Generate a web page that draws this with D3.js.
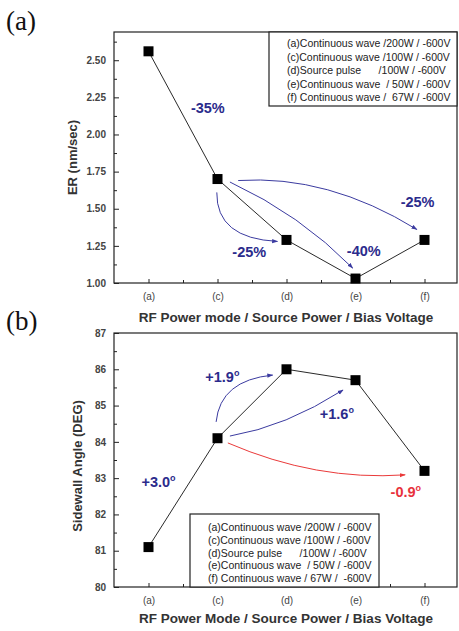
<!DOCTYPE html>
<html>
<head>
<meta charset="utf-8">
<script src="https://cdn.jsdelivr.net/npm/d3@7"></script>
<style>
  body { margin: 0; background: #fff; }
  text { font-family: Arial, "Liberation Sans", sans-serif; }
  .legend text { white-space: pre; }
</style>
</head>
<body>
<div id="chart"></div>
<script>
// categories + values
var categories = ["(a)", "(c)", "(d)", "(e)", "(f)"];
var erValues = [2.56, 1.70, 1.29, 1.03, 1.29];
var angleValues = [81.1, 84.1, 86.0, 85.7, 83.2];

var erTicks = [1.00, 1.25, 1.50, 1.75, 2.00, 2.25, 2.50];
var angleTicks = [80, 81, 82, 83, 84, 85, 86, 87];

var legendA = [
  "(a)Continuous wave /200W / -600V",
  "(c)Continuous wave /100W / -600V",
  "(d)Source pulse      /100W / -600V",
  "(e)Continuous wave  / 50W / -600V",
  "(f) Continuous wave /  67W / -600V"
];
var legendB = [
  "(a)Continuous wave /200W / -600V",
  "(c)Continuous wave /100W / -600V",
  "(d)Source pulse      /100W / -600V",
  "(e)Continuous wave  / 50W / -600V",
  "(f) Continuous wave / 67W /  -600V"
];

// arrows: [x0, y0, cx, cy, x1, y1] in data units (x = category index)
var arrowsA = [
  [0.99, 1.61, 0.98, 1.30, 1.87, 1.28],
  [1.18, 1.68, 2.20, 1.46, 2.96, 1.10],
  [1.30, 1.69, 2.60, 1.73, 3.89, 1.36]
];
var arrowsB = [
  [0.98, 84.55, 1.04, 85.70, 1.80, 85.84, "blue"],
  [1.18, 84.16, 1.99, 84.42, 2.82, 85.43, "blue"],
  [1.15, 83.97, 2.43, 82.92, 3.72, 83.09, "red"]
];
// labels: [x index, value, text]
var notesA = [
  [0.86, 2.145, "-35%"],
  [1.46, 1.175, "-25%"],
  [3.12, 1.18, "-40%"],
  [3.90, 1.51, "-25%"]
];
var notesB = [
  [1.07, 85.65, "+1.9", "#2b2b8c"],
  [2.73, 84.63, "+1.6", "#2b2b8c"],
  [0.145, 82.76, "+3.0", "#2b2b8c"],
  [3.73, 82.48, "-0.9", "#e8323c"]
];

var W = 459, H = 631;
var svg = d3.select("#chart").append("svg")
  .attr("width", W).attr("height", H);

var defs = svg.append("defs");
[["blue", "#3b3ba0"], ["red", "#ea3a3a"]].forEach(function(c) {
  defs.append("marker")
    .attr("id", "arr-" + c[0])
    .attr("viewBox", "0 0 10 10")
    .attr("refX", 9).attr("refY", 5)
    .attr("markerWidth", 6).attr("markerHeight", 6)
    .attr("markerUnits", "userSpaceOnUse")
    .attr("orient", "auto")
    .append("path")
    .attr("d", "M0,1.5 L10,5 L0,8.5 Z")
    .attr("fill", c[1]);
});

var x = d3.scaleLinear().domain([-0.5, 4.5]).range([114, 459]);

function drawPanel(opt) {
  var y = d3.scaleLinear().domain(opt.domain).range([opt.bottom, opt.top]);
  var g = svg.append("g");

  // frame
  g.append("rect")
    .attr("x", 114).attr("y", opt.top)
    .attr("width", 457 - 114).attr("height", opt.bottom - opt.top)
    .attr("fill", "none").attr("stroke", "#222").attr("stroke-width", 1.2);

  // x axis, ticks pointing in
  var xa = g.append("g").attr("transform", "translate(0," + opt.bottom + ")")
    .call(d3.axisBottom(x).tickValues(d3.range(5)).tickSize(-4)
      .tickPadding(10).tickFormat(function(i) { return categories[i]; }));
  var xm = g.append("g").attr("transform", "translate(0," + opt.bottom + ")")
    .call(d3.axisBottom(x).tickValues([0.5, 1.5, 2.5, 3.5]).tickSize(-3).tickFormat(""));
  // y axis
  var ya = g.append("g").attr("transform", "translate(114,0)")
    .call(d3.axisLeft(y).tickValues(opt.ticks).tickSize(-5)
      .tickPadding(8).tickFormat(opt.fmt));
  var ym = g.append("g").attr("transform", "translate(114,0)")
    .call(d3.axisLeft(y).tickValues(opt.minor).tickSize(-3).tickFormat(""));

  [xa, xm, ya, ym].forEach(function(a) {
    a.select(".domain").remove();
    a.selectAll("line").attr("stroke", "#222");
  });
  xa.selectAll("text").style("font-size", "10px").attr("fill", "#444");
  ya.selectAll("text").style("font-size", "10px").style("font-weight", "bold").attr("fill", "#444");

  // connecting line
  var line = d3.line()
    .x(function(d, i) { return x(i); })
    .y(function(d) { return y(d); });
  g.append("path").datum(opt.values)
    .attr("d", line).attr("fill", "none")
    .attr("stroke", "#111").attr("stroke-width", 0.9);

  // arrows
  g.selectAll(".arrow").data(opt.arrows).enter().append("path")
    .attr("d", function(a) {
      var p = d3.path();
      p.moveTo(x(a[0]), y(a[1]));
      p.quadraticCurveTo(x(a[2]), y(a[3]), x(a[4]), y(a[5]));
      return p.toString();
    })
    .attr("fill", "none")
    .attr("stroke", function(a) { return a[6] === "red" ? "#ea3a3a" : "#3b3ba0"; })
    .attr("stroke-width", 1)
    .attr("marker-end", function(a) { return "url(#arr-" + (a[6] || "blue") + ")"; });

  // markers
  g.selectAll(".pt").data(opt.values).enter().append("rect")
    .attr("x", function(d, i) { return x(i) - 5; })
    .attr("y", function(d) { return y(d) - 5; })
    .attr("width", 10).attr("height", 10)
    .attr("fill", "#000");

  // notes
  var nt = g.selectAll(".note").data(opt.notes).enter().append("text")
    .attr("x", function(n) { return x(n[0]); })
    .attr("y", function(n) { return y(n[1]); })
    .attr("text-anchor", "middle")
    .style("font-size", "14.5px").style("font-weight", "bold")
    .attr("fill", function(n) { return n[3] || "#2b2b8c"; });
  nt.append("tspan").text(function(n) { return n[2]; });
  if (opt.degree) {
    nt.append("tspan").attr("dy", -6).style("font-size", "9px").text("o");
  }

  // legend
  var lg = g.append("g").attr("class", "legend");
  lg.append("rect")
    .attr("x", opt.legend.x).attr("y", opt.legend.y)
    .attr("width", opt.legend.w).attr("height", opt.legend.h)
    .attr("fill", "#fff").attr("stroke", "#222").attr("stroke-width", 1.2);
  lg.selectAll("text").data(opt.legend.lines).enter().append("text")
    .attr("x", opt.legend.tx)
    .attr("y", function(d, i) { return opt.legend.ty + i * opt.legend.dy; })
    .style("font-size", "10.5px").attr("fill", "#222")
    .text(function(d) { return d; });

  // axis titles
  g.append("text")
    .attr("transform", "translate(" + opt.ylabX + "," + ((opt.top + opt.bottom) / 2 + opt.ylabShift) + ") rotate(-90)")
    .attr("text-anchor", "middle")
    .style("font-size", "13px").style("font-weight", "bold").attr("fill", "#333")
    .text(opt.ylab);
  g.append("text")
    .attr("x", 286).attr("y", opt.bottom + opt.xlabDy)
    .attr("text-anchor", "middle")
    .style("font-size", "13.5px").style("font-weight", "bold").attr("fill", "#333")
    .text(opt.xlab);

  // panel letter
  svg.append("text")
    .attr("x", 6).attr("y", opt.panelY)
    .style("font-family", "'Liberation Serif', 'Times New Roman', serif")
    .style("font-size", "27px").attr("fill", "#111")
    .text(opt.panel);
}

drawPanel({
  domain: [1.0, 2.69], top: 32, bottom: 283,
  ticks: erTicks, minor: [1.125, 1.375, 1.625, 1.875, 2.125, 2.375, 2.625],
  fmt: d3.format(".2f"),
  values: erValues, arrows: arrowsA, notes: notesA, degree: false,
  legend: { x: 269, y: 32, w: 188, h: 74, tx: 287, ty: 47, dy: 13.5, lines: legendA },
  ylab: "ER (nm/sec)", ylabX: 77, ylabShift: 0,
  xlab: "RF Power mode / Source Power / Bias Voltage", xlabDy: 39,
  panel: "(a)", panelY: 30
});

drawPanel({
  domain: [80, 87], top: 333, bottom: 587,
  ticks: angleTicks, minor: [80.5, 81.5, 82.5, 83.5, 84.5, 85.5, 86.5],
  fmt: d3.format("d"),
  values: angleValues, arrows: arrowsB, notes: notesB, degree: true,
  legend: { x: 190, y: 514, w: 189, h: 73, tx: 208, ty: 531, dy: 12.8, lines: legendB },
  ylab: "Sidewall Angle (DEG)", ylabX: 82, ylabShift: 6,
  xlab: "RF Power Mode / Source Power / Bias Voltage", xlabDy: 36,
  panel: "(b)", panelY: 330
});
</script>
</body>
</html>
